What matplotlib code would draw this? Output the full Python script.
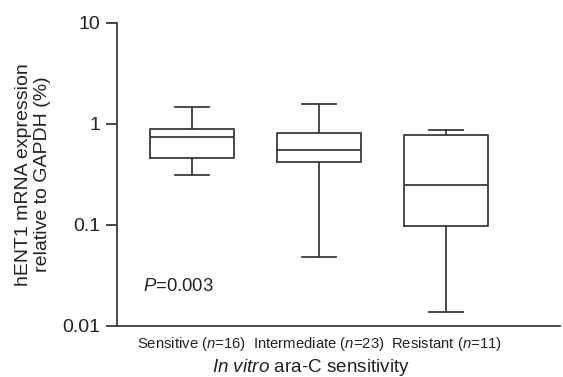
import matplotlib
matplotlib.use("Agg")
import matplotlib.pyplot as plt

plt.rcParams["font.family"] = ["Liberation Sans", "DejaVu Sans"]
plt.rcParams["mathtext.fontset"] = "custom"
plt.rcParams["mathtext.rm"] = "Liberation Sans"
plt.rcParams["mathtext.it"] = "Liberation Sans:italic"

groups = ["Sensitive ($n$=16)", "Intermediate ($n$=23)", "Resistant ($n$=11)"]
whislo = [0.308, 0.0484, 0.0138]
q1 = [0.457, 0.418, 0.098]
med = [0.73, 0.553, 0.247]
q3 = [0.89, 0.815, 0.772]
whishi = [1.47, 1.57, 0.873]

ink = "#3a3a3a"
txt = "#222222"

stats = []
for i, g in enumerate(groups):
    stats.append({"label": g, "whislo": whislo[i], "q1": q1[i], "med": med[i],
                  "q3": q3[i], "whishi": whishi[i], "fliers": []})

fig = plt.figure(figsize=(5.63, 3.77), dpi=100)
ax = fig.add_axes([0.2073, 0.136, 0.788, 0.804])

line = dict(color=ink, linewidth=1.3)
ax.bxp(stats, positions=[1, 2, 3], widths=0.66, showfliers=False,
       boxprops=line, medianprops=line, whiskerprops=line,
       capprops=line, capwidths=0.27)

ax.set_yscale("log")
ax.set_ylim(0.01, 10)
ax.set_xlim(0.407, 3.9)
ax.set_yticks([0.01, 0.1, 1, 10])
ax.set_yticklabels(["0.01", "0.1", "1", "10"])
ax.yaxis.set_minor_locator(matplotlib.ticker.NullLocator())

for s in ["top", "right"]:
    ax.spines[s].set_visible(False)
for s in ["left", "bottom"]:
    ax.spines[s].set_color(ink)
    ax.spines[s].set_linewidth(1.3)

ax.tick_params(axis="y", direction="out", length=8, width=1.3, color=ink,
               labelsize=14, pad=4, labelcolor=txt)
ax.tick_params(axis="x", length=0, labelsize=10.7, pad=7, labelcolor=txt)

ax.set_ylabel("hENT1 mRNA expression\nrelative to GAPDH (%)", fontsize=14,
              color=txt, linespacing=1.15)
ax.yaxis.set_label_coords(-0.148, 0.5)

ax.text(0.614, 0.0242, "$P$=0.003", fontsize=13.3, va="center", ha="left",
        color=txt)

fig.text(311 / 563, 1 - 367 / 377, "$In\\ vitro$ ara-C sensitivity",
         fontsize=13.6, ha="center", va="center", color=txt)

fig.savefig("out.png", dpi=100)
